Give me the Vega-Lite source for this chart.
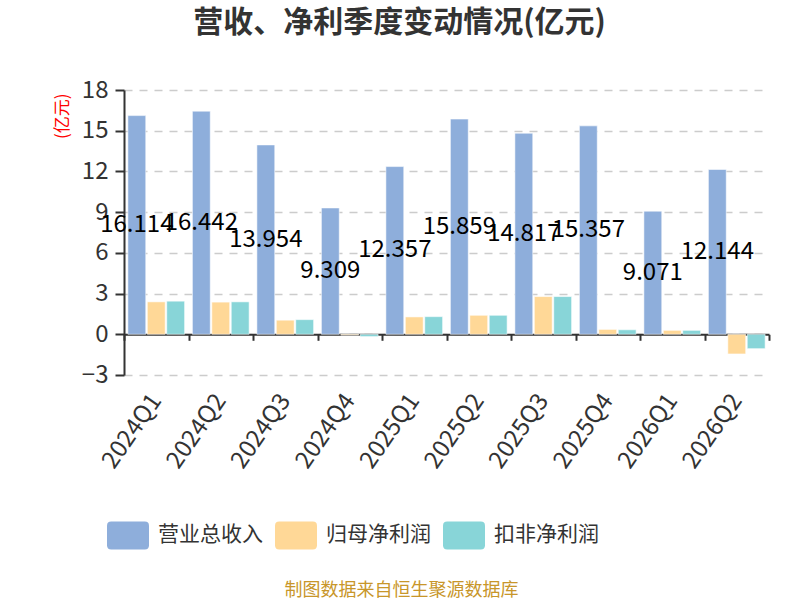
{
  "$schema": "https://vega.github.io/schema/vega-lite/v6.json",
  "width": 645,
  "height": 285,
  "autosize": {"type": "none"},
  "padding": {"left": 124, "top": 90, "right": 31, "bottom": 225},
  "title": {
    "text": "营收、净利季度变动情况(亿元)",
    "fontSize": 30,
    "fontWeight": "bold",
    "color": "#333333",
    "anchor": "middle",
    "frame": "group",
    "dx": -47,
    "offset": 40
  },
  "config": {
    "font": "Noto Sans CJK SC",
    "view": {"stroke": null}
  },
  "data": {
    "values": [
      {"quarter": "2024Q1", "type": "营业总收入", "value": 16.114},
      {"quarter": "2024Q1", "type": "归母净利润", "value": 2.39},
      {"quarter": "2024Q1", "type": "扣非净利润", "value": 2.44},
      {"quarter": "2024Q2", "type": "营业总收入", "value": 16.442},
      {"quarter": "2024Q2", "type": "归母净利润", "value": 2.37},
      {"quarter": "2024Q2", "type": "扣非净利润", "value": 2.39},
      {"quarter": "2024Q3", "type": "营业总收入", "value": 13.954},
      {"quarter": "2024Q3", "type": "归母净利润", "value": 1.04},
      {"quarter": "2024Q3", "type": "扣非净利润", "value": 1.08},
      {"quarter": "2024Q4", "type": "营业总收入", "value": 9.309},
      {"quarter": "2024Q4", "type": "归母净利润", "value": -0.06},
      {"quarter": "2024Q4", "type": "扣非净利润", "value": -0.17},
      {"quarter": "2025Q1", "type": "营业总收入", "value": 12.357},
      {"quarter": "2025Q1", "type": "归母净利润", "value": 1.28},
      {"quarter": "2025Q1", "type": "扣非净利润", "value": 1.3},
      {"quarter": "2025Q2", "type": "营业总收入", "value": 15.859},
      {"quarter": "2025Q2", "type": "归母净利润", "value": 1.4},
      {"quarter": "2025Q2", "type": "扣非净利润", "value": 1.4},
      {"quarter": "2025Q3", "type": "营业总收入", "value": 14.817},
      {"quarter": "2025Q3", "type": "归母净利润", "value": 2.78},
      {"quarter": "2025Q3", "type": "扣非净利润", "value": 2.78},
      {"quarter": "2025Q4", "type": "营业总收入", "value": 15.357},
      {"quarter": "2025Q4", "type": "归母净利润", "value": 0.36},
      {"quarter": "2025Q4", "type": "扣非净利润", "value": 0.33},
      {"quarter": "2026Q1", "type": "营业总收入", "value": 9.071},
      {"quarter": "2026Q1", "type": "归母净利润", "value": 0.29},
      {"quarter": "2026Q1", "type": "扣非净利润", "value": 0.29},
      {"quarter": "2026Q2", "type": "营业总收入", "value": 12.144},
      {"quarter": "2026Q2", "type": "归母净利润", "value": -1.45},
      {"quarter": "2026Q2", "type": "扣非净利润", "value": -1.06}
    ]
  },
  "encoding": {
    "x": {
      "field": "quarter",
      "type": "nominal",
      "sort": null,
      "scale": {"paddingInner": 0, "paddingOuter": 0},
      "axis": {
        "title": "制图数据来自恒生聚源数据库",
        "titleColor": "#C8962A",
        "titleFontSize": 18,
        "titleFontWeight": "normal",
        "titleX": 277,
        "titleY": 256,
        "titleBaseline": "middle",
        "offset": -40.7,
        "domainColor": "#333333",
        "domainWidth": 2,
        "tickBand": "extent",
        "tickColor": "#333333",
        "tickWidth": 2,
        "tickSize": 6,
        "labelAngle": -55,
        "labelFontSize": 24,
        "labelColor": "#333333",
        "labelPadding": 56
      }
    }
  },
  "layer": [
    {
      "mark": {"type": "bar", "stroke": "white", "strokeOpacity": 0.55, "strokeWidth": 1},
      "encoding": {
        "xOffset": {
          "field": "type",
          "sort": ["营业总收入", "归母净利润", "扣非净利润"],
          "scale": {"paddingInner": 0.08, "paddingOuter": 0.2}
        },
        "y": {
          "field": "value",
          "type": "quantitative",
          "scale": {"domain": [-3, 18], "nice": false, "zero": false},
          "axis": {
            "values": [-3, 0, 3, 6, 9, 12, 15, 18],
            "title": "(亿元)",
            "titleColor": "red",
            "titleFontSize": 17,
            "titleFontWeight": "normal",
            "titleAngle": -90,
            "titleX": -62,
            "titleY": 3,
            "titleAlign": "right",
            "titleBaseline": "middle",
            "domainColor": "#333333",
            "domainWidth": 2,
            "tickColor": "#333333",
            "tickWidth": 2,
            "tickSize": 9,
            "labelFontSize": 24,
            "labelColor": "#333333",
            "labelPadding": 7,
            "gridColor": "#cccccc",
            "gridDash": [8, 7],
            "gridWidth": 1.5
          }
        },
        "color": {
          "field": "type",
          "type": "nominal",
          "sort": ["营业总收入", "归母净利润", "扣非净利润"],
          "scale": {
            "domain": ["营业总收入", "归母净利润", "扣非净利润"],
            "range": ["#8EAEDB", "#FFD897", "#88D5D8"]
          },
          "legend": {
            "orient": "none",
            "legendX": -17,
            "legendY": 424,
            "direction": "horizontal",
            "title": null,
            "symbolType": "M-0.8,-0.667L0.8,-0.667Q1,-0.667,1,-0.467L1,0.467Q1,0.667,0.8,0.667L-0.8,0.667Q-1,0.667,-1,0.467L-1,-0.467Q-1,-0.667,-0.8,-0.667Z",
            "symbolSize": 1764,
            "symbolStrokeWidth": 0,
            "symbolOpacity": 1,
            "labelFontSize": 21,
            "labelColor": "#333333",
            "labelOffset": 9,
            "columnPadding": 12
          }
        }
      }
    },
    {
      "transform": [
        {"filter": "datum.type === '营业总收入'"},
        {"calculate": "datum.value / 2", "as": "labelPos"}
      ],
      "mark": {"type": "text", "fontSize": 24, "color": "black", "baseline": "middle"},
      "encoding": {
        "xOffset": {"field": "type", "sort": ["营业总收入", "归母净利润", "扣非净利润"]},
        "y": {"field": "labelPos", "type": "quantitative"},
        "text": {"field": "value", "type": "quantitative", "format": ".3f"}
      }
    }
  ]
}
